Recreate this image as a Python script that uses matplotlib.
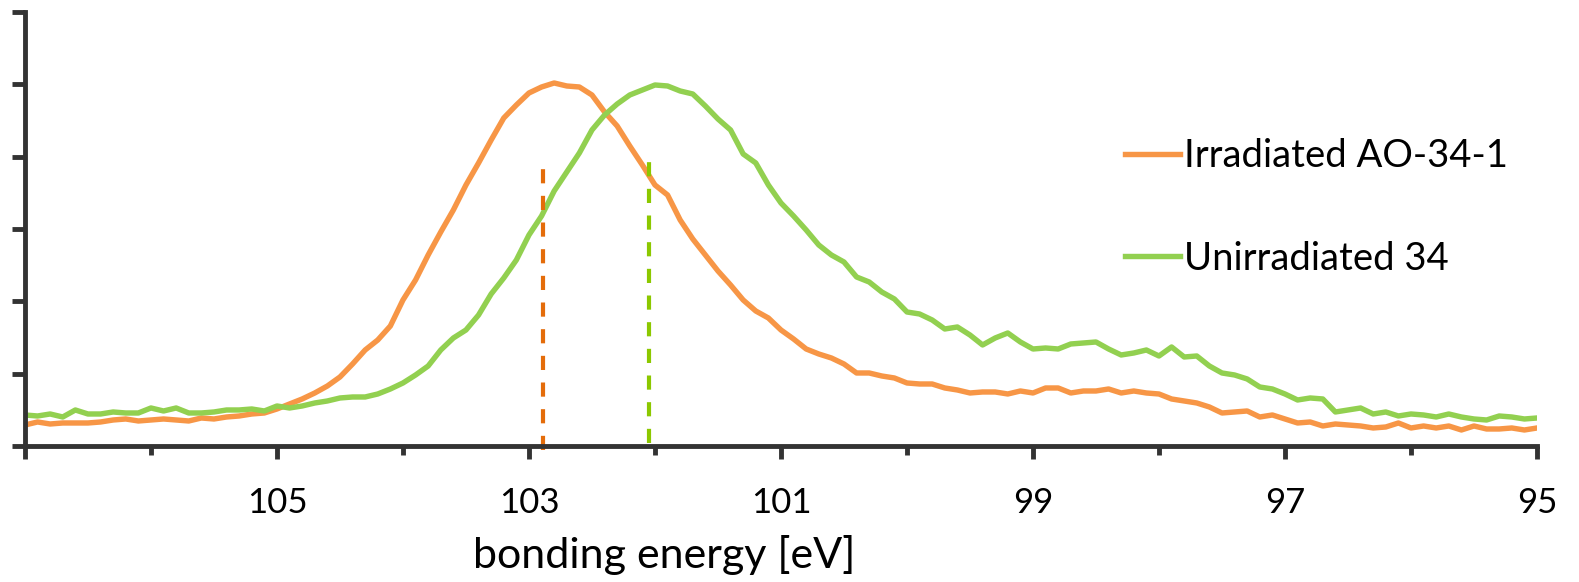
import numpy as np
import matplotlib
matplotlib.use('Agg')
import matplotlib.pyplot as plt
from matplotlib.ticker import FixedLocator

plt.rcParams['font.family'] = ['Lato', 'DejaVu Sans']

# binding energy grid of the spectrum, 0.1 eV step, 107 -> 95 eV
energy = np.round(np.linspace(107, 95, 121), 2)

# intensities (arb. units)
irradiated = [18, 21, 19, 20, 20, 20, 21, 23, 24, 22,
              23, 24, 23, 22, 25, 24, 26, 27, 29, 30,
              34, 39, 44, 50, 57, 66, 79, 93, 103, 117,
              143, 163, 188, 211, 233, 258, 280, 303, 325, 338,
              350, 356, 360, 357, 356, 348, 331, 317, 297, 278,
              258, 248, 223, 204, 188, 172, 158, 143, 132, 125,
              113, 104, 94, 89, 85, 79, 70, 70, 67, 65,
              60, 59, 59, 55, 53, 50, 51, 51, 49, 52,
              50, 55, 55, 50, 52, 52, 54, 50, 52, 50,
              49, 44, 42, 40, 36, 30, 31, 32, 26, 28,
              24, 20, 21, 17, 19, 18, 17, 15, 16, 20,
              15, 17, 15, 17, 13, 17, 14, 14, 15, 13, 15]

unirradiated = [28, 27, 29, 26, 33, 29, 29, 31, 30, 30,
                35, 32, 35, 30, 30, 31, 33, 33, 34, 32,
                37, 35, 37, 40, 42, 45, 46, 46, 49, 54,
                60, 68, 77, 93, 105, 113, 128, 149, 165, 183,
                208, 227, 252, 271, 290, 313, 328, 339, 348, 353,
                358, 357, 352, 349, 337, 324, 313, 289, 280, 258,
                240, 227, 213, 198, 188, 181, 166, 161, 151, 144,
                131, 129, 123, 114, 116, 108, 98, 105, 110, 101,
                94, 95, 94, 99, 100, 101, 94, 88, 90, 93,
                87, 96, 86, 87, 77, 70, 68, 64, 56, 54,
                49, 43, 45, 44, 31, 33, 35, 29, 31, 27,
                29, 28, 26, 29, 26, 24, 23, 27, 26, 24, 25]

labels = ['Irradiated AO-34-1', 'Unirradiated 34']

# peak positions marked with dashed lines: (energy, bottom, top)
peak_irr = (102.89, -7, 276)
peak_unirr = (102.05, 0, 284)

fig = plt.figure(figsize=(15.79, 5.82), dpi=100)
ax = fig.add_axes([0.0158, 0.2337, 0.9576, 0.7457])

ax.plot(energy, irradiated, color='#F79646', lw=3.9, label=labels[0],
        solid_joinstyle='round')
ax.plot(energy, unirradiated, color='#92D050', lw=3.9, label=labels[1],
        solid_joinstyle='round')

ax.plot([peak_irr[0], peak_irr[0]], [peak_irr[1], peak_irr[2]],
        color='#E46C0A', lw=3, dashes=(3.4, 3.0), clip_on=False)
ax.plot([peak_unirr[0], peak_unirr[0]], [peak_unirr[1], peak_unirr[2]],
        color='#8CC800', lw=3, dashes=(3.4, 3.0), clip_on=False)

ax.set_xlim(107, 95)
ax.set_ylim(-3, 431)

major = [107, 105, 103, 101, 99, 97, 95]
ax.xaxis.set_major_locator(FixedLocator(major))
ax.xaxis.set_minor_locator(FixedLocator([106, 104, 102, 100, 98, 96]))
ax.set_xticklabels(['' if v == 107 else str(v) for v in major])
ax.set_yticks(np.linspace(-3, 431, 7))
ax.set_yticklabels([])

for side in ['top', 'right']:
    ax.spines[side].set_visible(False)
for side in ['left', 'bottom']:
    ax.spines[side].set_color('#333333')
    ax.spines[side].set_linewidth(3.5)

ax.tick_params(axis='x', which='major', direction='out', length=9.5, width=3.5,
               color='#333333', labelsize=25, pad=20)
ax.tick_params(axis='x', which='minor', direction='out', length=6.5, width=3.5,
               color='#333333')
ax.tick_params(axis='y', direction='out', length=9.5, width=3.5, color='#333333')

ax.set_xlabel('bonding energy [eV]', fontsize=31)
ax.xaxis.set_label_coords(0.423, -0.205)

ax.legend(loc='upper left', bbox_to_anchor=(0.7125, 0.763),
          bbox_transform=fig.transFigure, frameon=False, fontsize=27.5,
          handlelength=1.45, handletextpad=0.1, labelspacing=1.75,
          borderpad=0, borderaxespad=0)

plt.savefig('out.png', dpi=100)
